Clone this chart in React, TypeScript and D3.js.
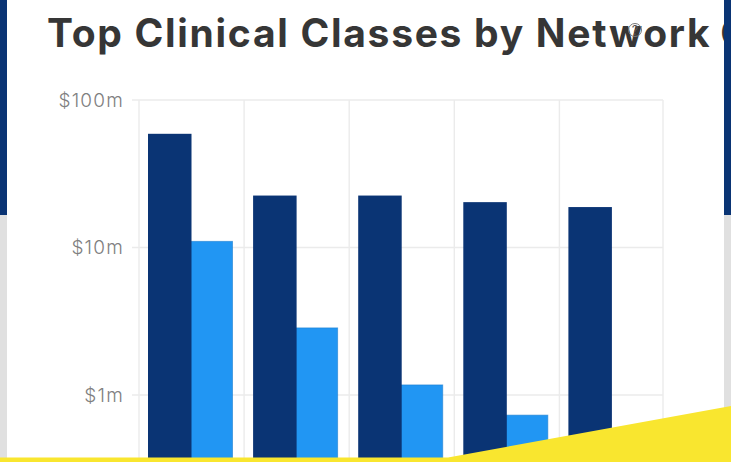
import React from "react";
import * as d3 from "d3";

const W = 731;
const H = 462;

// Spend per clinical class, in $ millions.
const classes = ["Class A", "Class B", "Class C", "Class D", "Class E"];
const totalCost = [59, 22.5, 22.5, 20.3, 18.8];
const networkCost = [11, 2.85, 1.17, 0.73, 0.45];
const yTicks = [100, 10, 1];
const yTickLabels = ["$100m", "$10m", "$1m"];
const titleLead = "Top Clinical Classes by Network ";
const titleTail = "Cost";

const NAVY = "#0a3474";
const BLUE = "#2196f3";
const GRID = "#ebebeb";
const YELLOW = "#f9e62f";

const y = d3.scaleLog().domain([0.1, 100]).range([542.5, 100]);
const x = d3.scaleBand<string>().domain(classes).range([139, 664.5]);
const plotRight = 663;
const barWidth = 43.5;
const barOffset = 9;
const ribbon = d3.line()([[0, 457.5], [448, 457.5], [731, 406], [731, 462], [0, 462]]) + "Z";

export default function App() {
  return (
    <svg
      width={W}
      height={H}
      viewBox={`0 0 ${W} ${H}`}
      style={{ position: "absolute", left: 0, top: 0, display: "block" }}
    >
      <defs>
        <clipPath id="card-clip">
          <rect x={7} y={0} width={717} height={H} />
        </clipPath>
      </defs>

      {/* Page backdrop and card */}
      <rect width={W} height={H} fill="#e0e0e0" />
      <rect width={W} height={215} fill={NAVY} />
      <rect x={7} width={717} height={H} fill="#ffffff" />

      <g clipPath="url(#card-clip)">
        <text
          x={47}
          y={47}
          fontFamily="Inter, 'Open Sans', sans-serif"
          fontWeight={700}
          fontSize={39}
          letterSpacing={1.7}
          fill="#363636"
        >
          {titleLead}
          <tspan dx={-2}>{titleTail}</tspan>
        </text>
      </g>

      {/* Help marker on top of the heading */}
      <circle cx={635} cy={30} r={6.5} fill="none" stroke="#777" strokeWidth={1} />
      <text x={635} y={35} textAnchor="middle" fontFamily="Inter, sans-serif" fontSize={13} fill="#555">?</text>

      {/* Grid */}
      {yTicks.map((t) => (
        <line key={t} x1={132} x2={plotRight} y1={y(t)} y2={y(t)} stroke={GRID} strokeWidth={1.4} />
      ))}
      {[...classes.map((c) => x(c)!), plotRight].map((px) => (
        <line key={px} x1={px} x2={px} y1={y(100)} y2={H} stroke={GRID} strokeWidth={1.4} />
      ))}

      {/* Tick labels */}
      {yTicks.map((t, i) => (
        <text
          key={t}
          x={124}
          y={y(t)}
          dy="0.36em"
          textAnchor="end"
          fontFamily="Inter, 'Open Sans', sans-serif"
          fontWeight={300}
          fontSize={19}
          letterSpacing={1.2}
          fill="#808080"
        >
          {yTickLabels[i]}
        </text>
      ))}

      {/* Paired bars */}
      {classes.map((c, i) => (
        <g key={c}>
          <rect
            x={x(c)! + barOffset + barWidth - 1.5}
            y={y(networkCost[i])}
            width={barWidth - 1}
            height={y(0.1) - y(networkCost[i])}
            fill={BLUE}
            stroke="#1c7fd0"
            strokeOpacity={0.6}
          />
          <rect
            x={x(c)! + barOffset}
            y={y(totalCost[i])}
            width={barWidth}
            height={y(0.1) - y(totalCost[i])}
            fill={NAVY}
          />
        </g>
      ))}

      <path d={ribbon} fill={YELLOW} />
    </svg>
  );
}
